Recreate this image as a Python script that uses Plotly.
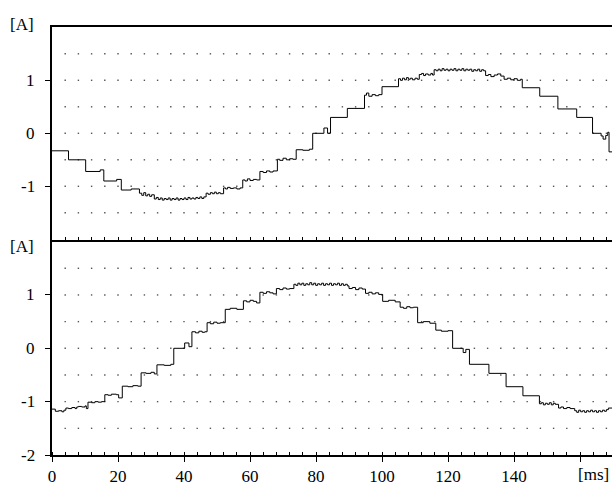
import plotly.graph_objects as go

# ---------------- data ----------------
t_top = [0.0, 5.0, 10.2, 14.6, 15.7, 19.6, 21.0, 24.0, 26.5, 27.2, 27.8, 28.4, 29.0, 29.6, 30.2,
         31.0, 31.6, 32.2, 32.8, 33.4, 34.0, 34.6, 35.2, 35.8, 36.4, 37.0, 37.6, 38.2, 38.8, 39.4,
         40.0, 40.6, 41.2, 41.8, 42.4, 43.0, 43.6, 44.2, 44.8, 45.4, 46.0, 46.7, 47.3, 48.0, 48.6,
         49.2, 49.8, 50.4, 51.0, 52.0, 52.6, 53.2, 54.0, 55.0, 56.0, 57.0, 57.8, 58.5, 59.2, 60.0,
         61.0, 62.0, 63.0, 64.0, 65.0, 66.0, 67.0, 68.3, 69.0, 70.0, 71.0, 72.0, 73.0, 74.0, 76.0,
         78.0, 79.0, 82.4, 83.5, 84.4, 89.5, 94.7, 95.3, 96.0, 97.0, 98.0, 99.0, 100.0, 105.0,
         105.6, 106.2, 106.8, 107.4, 108.0, 108.6, 109.2, 110.0, 110.7, 111.3, 112.0, 112.6, 113.2,
         114.0, 114.8, 115.3, 115.8, 116.4, 117.0, 117.6, 118.2, 118.8, 119.4, 120.0, 120.6, 121.2,
         121.8, 122.4, 123.0, 123.6, 124.2, 124.8, 125.4, 126.0, 126.6, 127.2, 127.8, 128.4, 129.0,
         129.6, 130.2, 130.8, 131.4, 132.2, 133.0, 134.0, 135.0, 136.0, 137.0, 138.0, 139.0, 140.0,
         141.0, 142.0, 142.5, 147.8, 153.3, 159.0, 163.8, 166.4, 167.0, 167.8, 168.4, 168.8, 169.7]
i_top = [-0.33, -0.50, -0.72, -0.69, -0.90, -0.87, -1.07, -1.05, -1.13, -1.17, -1.12, -1.18, -1.15, -1.19, -1.16,
         -1.24, -1.21, -1.25, -1.22, -1.26, -1.23, -1.25, -1.22, -1.26, -1.23, -1.25, -1.22, -1.26, -1.23, -1.25,
         -1.22, -1.25, -1.21, -1.24, -1.22, -1.24, -1.21, -1.23, -1.20, -1.23, -1.20, -1.13, -1.15, -1.12, -1.14,
         -1.11, -1.14, -1.12, -1.14, -1.03, -1.05, -1.02, -1.04, -1.03, -1.05, -1.03, -0.88, -0.90, -0.86, -0.89,
         -0.87, -0.88, -0.72, -0.74, -0.71, -0.73, -0.71, -0.49, -0.51, -0.47, -0.50, -0.48, -0.49, -0.31, -0.32,
         -0.30, 0.00, 0.10, 0.00, 0.30, 0.47, 0.72, 0.76, 0.70, 0.73, 0.71, 0.73, 0.88, 1.03,
         1.00, 1.04, 1.01, 1.05, 1.02, 1.04, 1.01, 1.04, 1.02, 1.11, 1.13, 1.09, 1.12,
         1.10, 1.13, 1.10, 1.20, 1.18, 1.21, 1.18, 1.22, 1.19, 1.21, 1.18, 1.21, 1.19,
         1.22, 1.18, 1.21, 1.19, 1.22, 1.18, 1.21, 1.19, 1.21, 1.17, 1.20, 1.18, 1.21,
         1.17, 1.20, 1.18, 1.09, 1.11, 1.07, 1.10, 1.12, 1.08, 1.02, 1.04, 1.01, 1.03,
         1.00, 1.02, 0.86, 0.70, 0.46, 0.30, 0.00, -0.05, -0.11, -0.04, 0.02, -0.35, -0.35]

t_bot = [0.0, 1.0, 2.0, 3.0, 3.6, 4.2, 5.0, 6.0, 7.0, 7.5, 8.0, 9.0, 10.0, 10.4, 10.9, 12.0, 13.0,
         14.0, 15.0, 16.0, 17.0, 18.0, 19.5, 20.2, 21.3, 23.0, 24.5, 26.0, 27.0, 28.5, 30.0, 31.0,
         31.8, 34.0, 36.0, 36.9, 40.2, 41.5, 42.4, 43.5, 44.5, 45.5, 46.3, 47.0, 48.0, 49.0, 50.0,
         51.0, 52.5, 54.0, 56.0, 58.0, 59.0, 60.0, 61.0, 62.0, 63.0, 64.0, 65.0, 66.0, 67.0, 68.0,
         69.0, 70.0, 71.0, 72.0, 73.3, 73.9, 74.5, 75.1, 75.7, 76.3, 76.9, 77.5, 78.1, 78.7, 79.3,
         79.9, 80.5, 81.1, 81.7, 82.3, 82.9, 83.5, 84.1, 84.7, 85.3, 85.9, 86.5, 87.1, 87.7, 88.3,
         88.9, 89.5, 90.0, 91.0, 92.0, 93.0, 94.0, 95.0, 96.0, 97.0, 98.0, 99.0, 100.2, 102.0,
         104.0, 105.5, 106.5, 107.5, 108.5, 109.5, 110.8, 112.5, 114.5, 116.3, 118.0, 120.0, 121.4,
         124.6, 125.4, 126.5, 132.4, 137.6, 142.7, 147.7, 148.3, 148.9, 149.5, 150.1, 150.7, 151.3,
         151.9, 152.5, 153.5, 154.2, 155.0, 156.0, 157.0, 158.4, 159.0, 159.6, 160.2, 160.8, 161.4,
         162.0, 162.6, 163.2, 163.8, 164.4, 165.0, 165.6, 166.2, 166.8, 167.4, 168.0, 168.6, 169.7]
i_bot = [-1.14, -1.18, -1.17, -1.19, -1.16, -1.12, -1.13, -1.11, -1.13, -1.10, -1.09, -1.10, -1.08, -1.13, -1.01, -1.02, -1.00,
         -1.01, -1.00, -0.87, -0.88, -0.86, -0.87, -0.93, -0.71, -0.72, -0.70, -0.71, -0.46, -0.47, -0.45, -0.48,
         -0.31, -0.32, -0.30, 0.00, 0.10, 0.03, 0.31, 0.29, 0.32, 0.30, 0.31, 0.48, 0.46, 0.49, 0.47,
         0.48, 0.73, 0.75, 0.73, 0.89, 0.87, 0.90, 0.88, 0.85, 1.05, 1.03, 1.06, 1.04, 1.02, 1.12,
         1.10, 1.13, 1.11, 1.12, 1.20, 1.18, 1.22, 1.19, 1.22, 1.18, 1.21, 1.19, 1.23, 1.19, 1.22,
         1.18, 1.21, 1.19, 1.22, 1.18, 1.21, 1.19, 1.22, 1.18, 1.21, 1.19, 1.22, 1.18, 1.21, 1.18,
         1.20, 1.17, 1.12, 1.14, 1.10, 1.13, 1.11, 1.03, 1.05, 1.02, 1.04, 1.01, 0.88, 0.90,
         0.87, 0.77, 0.75, 0.78, 0.76, 0.77, 0.48, 0.50, 0.47, 0.34, 0.32, 0.33, 0.00,
         -0.08, -0.02, -0.30, -0.47, -0.72, -0.89, -1.04, -1.02, -1.06, -1.03, -1.05, -1.02, -1.06,
         -1.03, -1.05, -1.12, -1.10, -1.13, -1.11, -1.13, -1.17, -1.20, -1.16, -1.19, -1.17, -1.20,
         -1.17, -1.19, -1.16, -1.19, -1.17, -1.20, -1.17, -1.19, -1.16, -1.18, -1.15, -1.12, -1.12]

x_ticks = [0, 20, 40, 60, 80, 100, 120, 140, 160]
x_tick_text = ["0", "20", "40", "60", "80", "100", "120", "140", ""]
y_ticks_top = [-1, 0, 1]
y_text_top = ["-1", "0", "1"]
y_ticks_bot = [-2, -1, 0, 1]
y_text_bot = ["-2", "-1", "0", "1"]
unit_label = "[A]"
time_label = "[ms]"

# dotted grid: a dot every 4 ms on every 0.5 A level
grid_x = [4 * k for k in range(1, 43)]
grid_levels = [-1.5, -1.0, -0.5, 0.0, 0.5, 1.0, 1.5]

# ---------------- figure ----------------
FONT = "Liberation Serif, Times New Roman, Times, serif"
W, H = 612, 486
ML, MT, MB = 52, 27, 31
plot_h = H - MT - MB
split = (H - MB - 240) / plot_h  # y pixel 240 is the divider
LABEL_RIGHT = 37  # pixel x of the right edge of y tick labels

fig = go.Figure()

gx, gy = [], []
for lv in grid_levels:
    for xx in grid_x:
        gx.append(xx)
        gy.append(lv)

for ya in ("y", "y2"):
    fig.add_trace(go.Scatter(x=gx, y=gy, mode="markers", xaxis="x" if ya == "y" else "x2", yaxis=ya,
                             marker=dict(size=1.4, color="#555555", symbol="square", line=dict(width=0)),
                             hoverinfo="skip", showlegend=False))

fig.add_trace(go.Scatter(x=t_top, y=i_top, mode="lines", line=dict(color="black", width=1, shape="hv"),
                         xaxis="x2", yaxis="y2", showlegend=False))
fig.add_trace(go.Scatter(x=t_bot, y=i_bot, mode="lines", line=dict(color="black", width=1, shape="hv"),
                         xaxis="x", yaxis="y", showlegend=False))

xr = [0, (W - ML) / 3.3]
axfont = dict(family=FONT, size=17, color="black")
lab_x = (LABEL_RIGHT - ML) / (W - ML)

annotations = []
for yref, vals, texts in (("y2", y_ticks_top, y_text_top), ("y", y_ticks_bot, y_text_bot)):
    for v, s in zip(vals, texts):
        annotations.append(dict(text=s, xref="paper", yref=yref, x=lab_x, y=v, xanchor="right",
                                yanchor="middle", showarrow=False, font=axfont))
annotations += [
    dict(text=unit_label, xref="paper", yref="paper", x=(22 - ML) / (W - ML), y=(H - MB - 25) / plot_h,
         xanchor="center", yanchor="middle", showarrow=False, font=axfont),
    dict(text=unit_label, xref="paper", yref="paper", x=(22 - ML) / (W - ML), y=(H - MB - 247) / plot_h,
         xanchor="center", yanchor="middle", showarrow=False, font=axfont),
    dict(text=time_label, xref="x", yref="paper", x=164, y=(H - MB - 474) / plot_h,
         xanchor="center", yanchor="middle", showarrow=False, font=axfont),
]

fig.update_layout(
    width=W, height=H,
    margin=dict(l=ML, r=0, t=MT, b=MB, pad=0),
    paper_bgcolor="white", plot_bgcolor="white",
    font=axfont,
    xaxis=dict(domain=[0, 1], anchor="y", range=xr, tickvals=x_ticks, ticktext=x_tick_text,
               ticks="outside", ticklen=5, tickwidth=1, tickcolor="black",
               showline=True, linecolor="black", linewidth=1.5, showgrid=False, zeroline=False,
               minor=dict(ticks="inside", dtick=4, tick0=0, ticklen=3, tickcolor="black", showgrid=False),
               tickfont=axfont),
    xaxis2=dict(domain=[0, 1], anchor="y2", range=xr, matches="x", showticklabels=False,
                ticks="", showline=True, mirror=True, linecolor="black", linewidth=1.5,
                showgrid=False, zeroline=False,
                minor=dict(ticks="inside", dtick=4, tick0=0, ticklen=3, tickcolor="black", showgrid=False)),
    yaxis=dict(domain=[0, split], anchor="x", range=[-2.0, 2.03], tickvals=y_ticks_bot,
               showticklabels=False,
               ticks="outside", ticklen=5, tickcolor="black", showline=True, linecolor="black", linewidth=1.5,
               showgrid=False, zeroline=False),
    yaxis2=dict(domain=[split, 1], anchor="x2", range=[-2.013, 2.006], tickvals=y_ticks_top,
                showticklabels=False,
                ticks="outside", ticklen=5, tickcolor="black", showline=True, linecolor="black", linewidth=1.5,
                showgrid=False, zeroline=False),
    annotations=annotations,
)

fig.write_html("out.html")
